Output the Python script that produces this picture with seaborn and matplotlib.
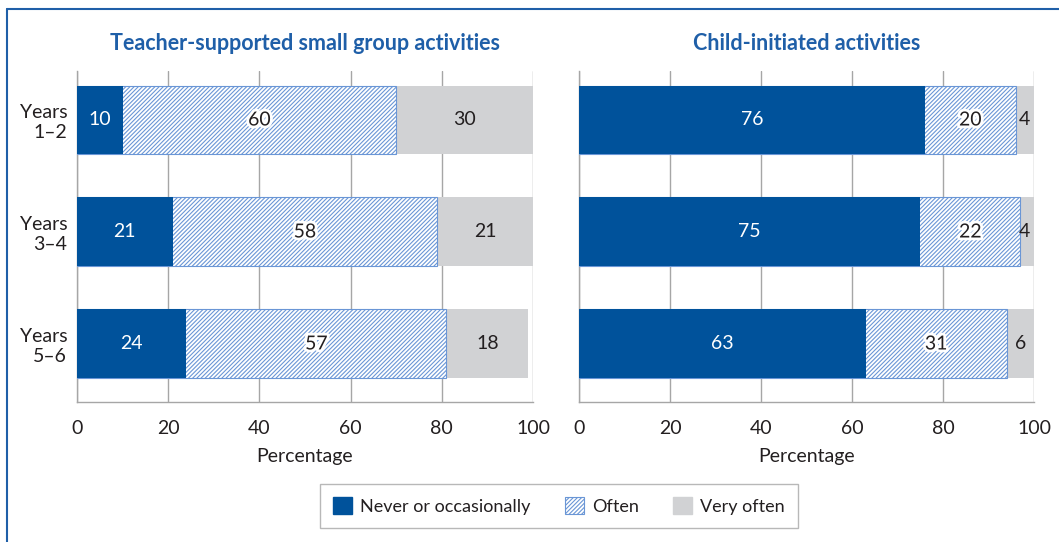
import numpy as np
import pandas as pd
import matplotlib
matplotlib.use("Agg")
import matplotlib.pyplot as plt
from matplotlib.patches import Patch
from matplotlib.lines import Line2D
import matplotlib.patheffects as pe
import seaborn as sns

# ---- data -------------------------------------------------------------
groups = ["Years\n1\u20132", "Years\n3\u20134", "Years\n5\u20136"]
series = ["Never or occasionally", "Often", "Very often"]
panel_titles = ["Teacher-supported small group activities", "Child-initiated activities"]

teacher_never = [10, 21, 24]
teacher_often = [60, 58, 57]
teacher_very = [30, 21, 18]

child_never = [76, 75, 63]
child_often = [20, 22, 31]
child_very = [4, 4, 6]

x_ticks = [0, 20, 40, 60, 80, 100]

# ---- style ------------------------------------------------------------
DARK_BLUE = "#00529b"
HATCH_BLUE = "#6a96d6"
GREY = "#d1d2d4"
GRID = "#a6a6a6"
TEXT = "#231f20"
FRAME = "#1f5fa8"
HATCH = "////////"

sns.set_theme(style="white")
plt.rcParams["font.family"] = ["Lato", "DejaVu Sans"]
plt.rcParams["hatch.linewidth"] = 0.8
plt.rcParams["hatch.color"] = HATCH_BLUE

fig = plt.figure(figsize=(10.59, 5.42), dpi=100)
ax_l = fig.add_axes([77 / 1059, 1 - 402 / 542, 456 / 1059, 331 / 542])
ax_r = fig.add_axes([579 / 1059, 1 - 402 / 542, 455 / 1059, 331 / 542])

BAR_H = 0.616


def draw_panel(ax, never, often, very, title, show_labels):
    df = pd.DataFrame({"group": groups, "never": never, "often": often, "very": very})
    df["c1"] = df["never"]
    df["c2"] = df["never"] + df["often"]
    df["c3"] = df["c2"] + df["very"]

    # stacked look: draw cumulative totals from longest to shortest
    sns.barplot(data=df, x="c3", y="group", orient="h", color=GREY,
                width=BAR_H, saturation=1, ax=ax, zorder=2, linewidth=0)
    n0 = len(ax.patches)
    sns.barplot(data=df, x="c2", y="group", orient="h", color="white",
                width=BAR_H, saturation=1, ax=ax, zorder=3)
    for p in ax.patches[n0:]:
        p.set_facecolor("white")
        p.set_edgecolor(HATCH_BLUE)
        p.set_hatch(HATCH)
        p.set_linewidth(0.8)
    sns.barplot(data=df, x="c1", y="group", orient="h", color=DARK_BLUE,
                width=BAR_H, saturation=1, ax=ax, zorder=4, linewidth=0)

    halo = [pe.withStroke(linewidth=4, foreground="white")]
    for i, row in df.iterrows():
        ax.text(row["never"] / 2, i, f"{row['never']}", ha="center", va="center",
                color="white", fontsize=14, zorder=6)
        ax.text(row["c1"] + row["often"] / 2, i, f"{row['often']}", ha="center",
                va="center", color=TEXT, fontsize=14, zorder=6, path_effects=halo)
        ax.text(min(row["c2"] + row["very"] / 2, 100 - row["very"] / 2), i,
                f"{row['very']}", ha="center", va="center", color=TEXT,
                fontsize=14, zorder=6)

    ax.set_xlim(0, 100)
    ax.set_ylim(2.518, -0.4375)
    ax.set_xticks(x_ticks)
    ax.set_xticklabels([str(t) for t in x_ticks], fontsize=14, color=TEXT)
    ax.set_xlabel("Percentage", fontsize=14, color=TEXT, labelpad=8)
    ax.set_ylabel("")
    if show_labels:
        ax.set_yticks(range(len(groups)))
        ax.set_yticklabels(groups, fontsize=14, color=TEXT, ha="right",
                           multialignment="right", linespacing=1.15)
    else:
        ax.set_yticks([])
    ax.tick_params(axis="y", length=0, pad=7)
    ax.tick_params(axis="x", length=4, width=1, color=GRID, pad=9, direction="out")
    ax.xaxis.grid(True, color=GRID, linewidth=1)
    ax.set_axisbelow(True)
    for side in ["top", "right"]:
        ax.spines[side].set_visible(False)
    for side in ["left", "bottom"]:
        ax.spines[side].set_color(GRID)
        ax.spines[side].set_linewidth(1)
    ax.set_title(title, fontsize=15.5, fontweight="bold", color=FRAME, pad=15)


draw_panel(ax_l, teacher_never, teacher_often, teacher_very, panel_titles[0], True)
draw_panel(ax_r, child_never, child_often, child_very, panel_titles[1], False)

handles = [
    Patch(facecolor=DARK_BLUE, edgecolor=DARK_BLUE),
    Patch(facecolor="white", edgecolor=HATCH_BLUE, hatch=HATCH, linewidth=0.8),
    Patch(facecolor=GREY, edgecolor=GREY),
]
leg = fig.legend(handles, series, loc="center", bbox_to_anchor=(559 / 1059, 1 - 506 / 542),
                 ncol=3, frameon=True, fancybox=False, fontsize=13, handlelength=1.05,
                 handleheight=1.05, handletextpad=0.45, columnspacing=1.9,
                 borderpad=0.75, labelcolor=TEXT)
leg.get_frame().set_edgecolor("#a6a6a6")
leg.get_frame().set_linewidth(1)

# outer frame: top and left rules
fig.add_artist(Line2D([7 / 1059, 1], [1 - 9 / 542, 1 - 9 / 542], color=FRAME, lw=1.5,
                      transform=fig.transFigure))
fig.add_artist(Line2D([7 / 1059, 7 / 1059], [0, 1 - 9 / 542], color=FRAME, lw=1.5,
                      transform=fig.transFigure))

fig.savefig("out.png", dpi=100)
